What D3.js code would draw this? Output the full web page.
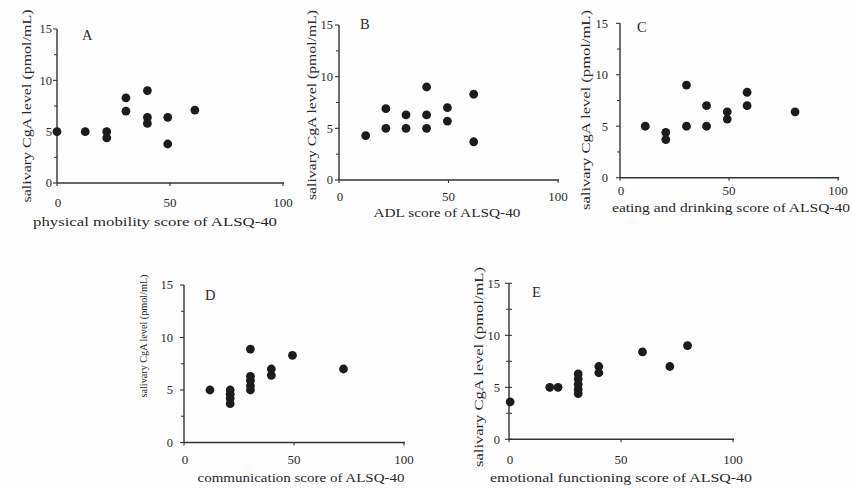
<!DOCTYPE html>
<html><head><meta charset="utf-8">
<script src="https://cdn.jsdelivr.net/npm/d3@7"></script>
<style>
html,body{margin:0;padding:0;background:#fff;}
svg{display:block;}
text{font-family:"Liberation Serif","DejaVu Serif",serif;fill:#2a2a2a;}
</style></head>
<body>
<script>
// ---- data ----
const panelLetters = ["A", "B", "C", "D", "E"];
const xTitles = [
  "physical mobility score of ALSQ-40",
  "ADL score of ALSQ-40",
  "eating and drinking score of ALSQ-40",
  "communication score of ALSQ-40",
  "emotional functioning score of ALSQ-40"
];
const yTitle = "salivary CgA level (pmol/mL)";
const xTicks = [0, 50, 100];
const yTicks = [0, 5, 10, 15];
const yMinorTicks = [2.5, 7.5, 12.5];

const mobilityX = [0, 12.5, 22, 22, 30.5, 30.5, 40, 40, 40, 49, 49, 61];
const mobilityY = [5.0, 5.0, 5.0, 4.4, 8.3, 7.0, 9.0, 6.4, 5.8, 6.4, 3.8, 7.1];

const adlX = [12.2, 21.4, 21.4, 30.6, 30.6, 40, 40, 40, 49.5, 49.5, 61.5, 61.5];
const adlY = [4.3, 6.9, 5.0, 6.3, 5.0, 9.0, 6.3, 5.0, 7.0, 5.7, 8.3, 3.7];

const eatingX = [11.6, 21, 21, 30.5, 30.5, 39.7, 39.7, 49.2, 49.2, 58.3, 58.3, 80.3];
const eatingY = [5.0, 4.4, 3.7, 9.0, 5.0, 7.0, 5.0, 6.4, 5.7, 8.3, 7.0, 6.4];

const commX = [11.8, 21, 21, 21, 21, 30.2, 30.2, 30.2, 30.2, 30.2, 39.7, 39.7, 49.3, 72.5];
const commY = [5.0, 5.0, 4.6, 4.2, 3.7, 8.9, 6.3, 5.9, 5.4, 5.0, 7.0, 6.4, 8.3, 7.0];

const emotionX = [0.5, 18.2, 21.9, 30.9, 30.9, 30.9, 30.9, 30.9, 40.1, 40.1, 59.6, 71.8, 79.7];
const emotionY = [3.6, 5.0, 5.0, 6.3, 5.8, 5.3, 4.8, 4.4, 7.0, 6.4, 8.4, 7.0, 9.0];

const seriesX = [mobilityX, adlX, eatingX, commX, emotionX];
const seriesY = [mobilityY, adlY, eatingY, commY, emotionY];

// ---- layout (positions only) ----
const layout = [
  {x0:57,  x1:283, y0:183,   y1:29,    yt:[31,106,193],  tb:207, xt:[226,155,244], let:[82,40],   yl:52,  cross:false},
  {x0:339, x1:558, y0:180,   y1:25,    yt:[316,105,190], tb:201, xt:[217,447,147], let:[360,29],  yl:333, cross:false},
  {x0:620, x1:838, y0:177.7, y1:23.3,  yt:[590,110,200], tb:195, xt:[212,731,238], let:[637,32],  yl:608, cross:false},
  {x0:184, x1:404, y0:442.5, y1:285,   yt:[147,336,123], tb:464, xt:[482,301,207], let:[205,300], yl:173, cross:false},
  {x0:509, x1:733, y0:439.3, y1:283.3, yt:[483,367,200], tb:464, xt:[482,621,262], let:[532,297], yl:500, cross:true}
];

const svg = d3.select("body").append("svg").attr("width", 852).attr("height", 490);
svg.append("rect").attr("width", 852).attr("height", 490).attr("fill", "#fdfefd");

layout.forEach((L, i) => {
  const x = d3.scaleLinear().domain([0, 100]).range([L.x0, L.x1]);
  const y = d3.scaleLinear().domain([0, 15]).range([L.y0, L.y1]);
  const g = svg.append("g");
  const stroke = "#333";

  // axes lines
  g.append("line").attr("x1", L.x0).attr("x2", L.x0).attr("y1", y(0)).attr("y2", y(15))
    .attr("stroke", stroke).attr("stroke-width", 1.4);
  g.append("line").attr("x1", L.x0).attr("x2", x(100) + 1).attr("y1", y(0)).attr("y2", y(0))
    .attr("stroke", stroke).attr("stroke-width", 1.4);

  // y ticks
  yTicks.forEach(t => {
    g.append("line").attr("x1", L.x0 - 4).attr("x2", L.cross ? L.x0 + 3 : L.x0)
      .attr("y1", y(t)).attr("y2", y(t)).attr("stroke", stroke).attr("stroke-width", 1.1);
    g.append("text").attr("x", L.yl).attr("y", y(t)).attr("dy", "0.35em")
      .attr("text-anchor", "end").attr("font-size", 12.5).text(t);
  });
  yMinorTicks.forEach(t => {
    g.append("line").attr("x1", L.x0 - 3).attr("x2", L.cross ? L.x0 + 3 : L.x0)
      .attr("y1", y(t)).attr("y2", y(t)).attr("stroke", stroke).attr("stroke-width", 1);
  });

  // x ticks
  xTicks.forEach(t => {
    g.append("line").attr("x1", x(t)).attr("x2", x(t)).attr("y1", y(0)).attr("y2", y(0) + 3)
      .attr("stroke", stroke).attr("stroke-width", 1.1);
    g.append("text").attr("x", x(t) + (t === 0 ? 1 : 0)).attr("y", L.tb)
      .attr("text-anchor", "middle").attr("font-size", 13).text(t);
  });

  // axis titles
  g.append("text").attr("x", L.xt[1]).attr("y", L.xt[0]).attr("text-anchor", "middle")
    .attr("font-size", 13.5).attr("textLength", L.xt[2]).attr("lengthAdjust", "spacingAndGlyphs")
    .text(xTitles[i]);
  g.append("text").attr("transform", `translate(${L.yt[0]},${L.yt[1]}) rotate(-90)`)
    .attr("text-anchor", "middle").attr("font-size", L.yt[2] < 150 ? 10.5 : 13.5)
    .attr("textLength", L.yt[2]).attr("lengthAdjust", "spacingAndGlyphs")
    .text(yTitle);

  // panel letter
  g.append("text").attr("x", L.let[0]).attr("y", L.let[1]).attr("font-size", 14.5)
    .text(panelLetters[i]);

  // points
  const pts = seriesX[i].map((v, k) => [v, seriesY[i][k]]);
  g.selectAll("circle").data(pts).enter().append("circle")
    .attr("cx", d => x(d[0])).attr("cy", d => y(d[1])).attr("r", 4.4)
    .attr("fill", "#1c1c1c");
});
</script>
</body></html>
